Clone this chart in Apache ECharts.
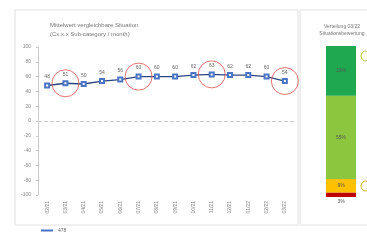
<!DOCTYPE html>
<html>
<head>
<meta charset="utf-8">
<script src="https://cdn.jsdelivr.net/npm/echarts@6/dist/echarts.min.js"></script>
<style>
  html, body { margin: 0; padding: 0; background: #fff; }
  #chart { width: 367px; height: 244px; }
</style>
</head>
<body>
<div id="chart"></div>
<script>
// Monatsverlauf (Mittelwert)
const months = ['02/21', '03/21', '04/21', '05/21', '06/21', '07/21', '08/21',
  '09/21', '10/21', '11/21', '12/21', '01/22', '02/22', '03/22'];
const meanValues = [48, 51, 50, 54, 56, 60, 60, 60, 62, 63, 62, 62, 60, 54];
// hervorgehobene Punkte (rote Kreise)
const highlighted = [null, 51, null, null, null, 60, null, null, null, 63, null, null, null, 54];
const yTicks = [-100, 100, 20];

// Verteilung letzter Monat (gestapelt, von unten nach oben)
const distNames = ['rot', 'gelb', 'hellgrün', 'dunkelgrün'];
const distValues = [3, 9, 55, 33];
const distColors = ['#c00000', '#ffc000', '#8cc63f', '#1fa84f'];

const chart = echarts.init(document.getElementById('chart'));

const distSeries = distNames.map((name, i) => ({
  name: name,
  type: 'bar',
  stack: 'dist',
  xAxisIndex: 1,
  yAxisIndex: 1,
  barWidth: 30,
  itemStyle: { color: distColors[i] },
  label: {
    show: true,
    position: i === 0 ? 'bottom' : 'inside',
    formatter: '{c}%',
    fontSize: 5,
    color: '#555',
    distance: 2
  },
  data: [distValues[i]]
}));

const option = {
  animation: false,
  textStyle: { fontFamily: 'Liberation Sans, Arial, sans-serif' },
  graphic: [
    { type: 'rect', shape: { x: 15, y: 10, width: 283, height: 215 },
      style: { fill: 'none', stroke: '#e0e0e0', lineWidth: 1 } },
    { type: 'rect', shape: { x: 300, y: 10, width: 80, height: 215 },
      style: { fill: 'none', stroke: '#e0e0e0', lineWidth: 1 } },
    { type: 'circle', shape: { cx: 366, cy: 56, r: 5 },
      style: { fill: 'none', stroke: '#b5c93a', lineWidth: 1 } },
    { type: 'circle', shape: { cx: 366, cy: 186, r: 5 },
      style: { fill: 'none', stroke: '#e0b030', lineWidth: 1 } }
  ],
  title: [
    {
      text: 'Mittelwert vergleichbare Situation\n(Cx.x.x Sub-category / month)',
      left: 45, top: 16,
      textStyle: { fontSize: 6, fontWeight: 'normal', color: '#777', lineHeight: 9 }
    },
    {
      text: 'Verteilung 03/22\nSituationsbewertung',
      left: 337, top: 18, textAlign: 'center',
      textStyle: { fontSize: 5, fontWeight: 'normal', color: '#777', lineHeight: 7 }
    }
  ],
  legend: {
    data: ['478'],
    left: 36, top: 223,
    itemWidth: 12, itemHeight: 2, itemGap: 3,
    icon: 'rect',
    textStyle: { fontSize: 5, color: '#666' }
  },
  grid: [
    { left: 38, right: 73, top: 47, bottom: 49 },
    { left: 320, right: 5, top: 46, bottom: 47 }
  ],
  xAxis: [
    {
      type: 'category',
      data: months,
      gridIndex: 0,
      axisLine: { show: false },
      axisTick: { show: false },
      axisLabel: { rotate: 90, fontSize: 5, color: '#888', margin: 6 }
    },
    {
      type: 'category',
      data: ['03/22'],
      gridIndex: 1,
      show: false
    }
  ],
  yAxis: [
    {
      type: 'value',
      gridIndex: 0,
      min: yTicks[0], max: yTicks[1], interval: yTicks[2],
      axisLine: { show: true, lineStyle: { color: '#ccc' } },
      axisTick: { show: true, length: 2, lineStyle: { color: '#ccc' } },
      splitLine: { show: false },
      axisLabel: { fontSize: 5, color: '#888', margin: 7 }
    },
    {
      type: 'value',
      gridIndex: 1,
      min: 0, max: 100,
      show: false
    }
  ],
  series: [
    {
      name: '478',
      type: 'line',
      data: meanValues,
      color: '#2a4580',
      lineStyle: { width: 1.3, color: '#2a4580' },
      symbol: 'emptyRect',
      symbolSize: 4,
      itemStyle: { color: '#4a74c4', borderWidth: 1 },
      label: { show: true, position: 'top', fontSize: 5, color: '#666', distance: 3 },
      markLine: {
        silent: true,
        symbol: 'none',
        label: { show: false },
        lineStyle: { color: '#ccc', type: 'dashed', width: 1 },
        data: [{ yAxis: 0 }]
      }
    },
    {
      name: 'markiert',
      type: 'scatter',
      data: highlighted,
      symbol: 'circle',
      symbolSize: 27,
      itemStyle: { color: 'rgba(0,0,0,0)', borderColor: '#d9534f', borderWidth: 1 },
      z: 5
    },
    ...distSeries
  ]
};

chart.setOption(option);
window.addEventListener('resize', () => chart.resize());
</script>
</body>
</html>
